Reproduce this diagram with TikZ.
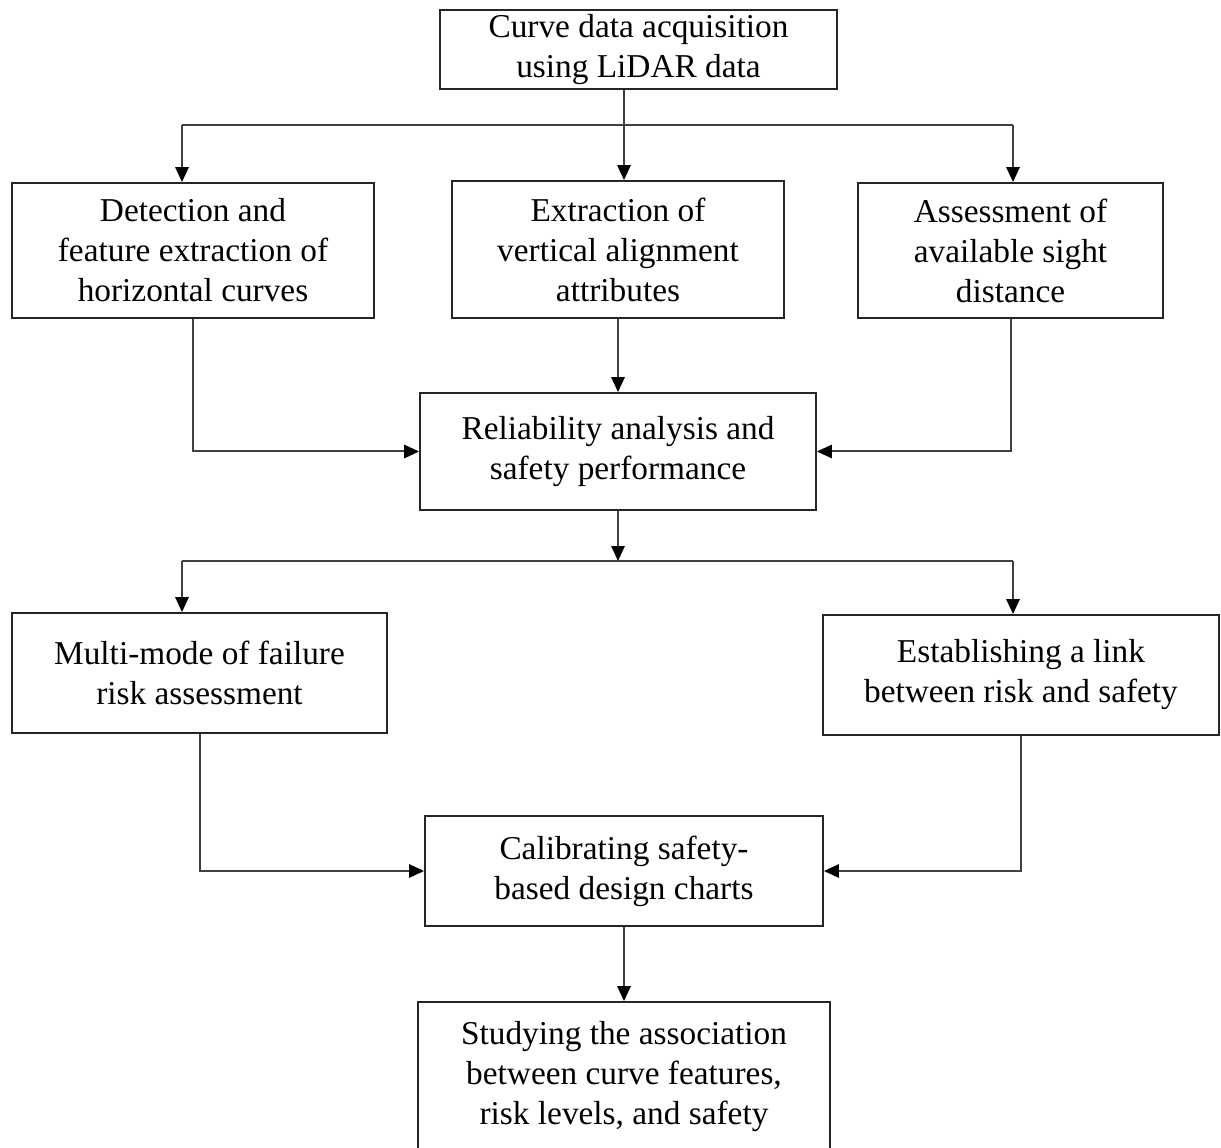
\documentclass[tikz,border=0pt]{standalone}
\usepackage{fontspec}
\setmainfont{Liberation Serif}
\usetikzlibrary{arrows.meta}

\tikzset{
  box/.style={draw=black!85, line width=1.1pt, align=center, inner sep=0pt,
    font=\fontsize{20}{24}\selectfont},
  line/.style={draw=black!75, line width=1.2pt},
  arr/.style={line, -{Triangle[length=9pt,width=8pt,black]}}
}

\begin{document}
\begin{tikzpicture}[x=0.6pt, y=-0.6pt]
    \clip (0,0) rectangle (1221,1148);

    % Boxes
    \node[box, minimum width=238.2pt, minimum height=47.4pt] (acquire) at (638.5,49.5) {Curve data acquisition\\using LiDAR data};

    \node[box, minimum width=217.2pt, minimum height=81pt] (detect) at (193,250.5) {Detection and\\feature extraction of\\horizontal curves};
    \node[box, minimum width=199.2pt, minimum height=82.2pt] (vertical) at (618,249.5) {Extraction of\\vertical alignment\\attributes};
    \node[box, minimum width=183pt, minimum height=81pt] (sight) at (1010.5,250.5) {Assessment of\\available sight\\distance};

    \node[box, minimum width=237.6pt, minimum height=70.2pt] (reliab) at (618,451.5) {Reliability analysis and\\safety performance};

    \node[box, minimum width=225pt, minimum height=72pt] (multi) at (199.5,673) {Multi-mode of failure\\risk assessment};
    \node[box, minimum width=237.6pt, minimum height=72pt] (link) at (1021,675) {Establishing a link\\between risk and safety};

    \node[box, minimum width=238.8pt, minimum height=66pt] (calib) at (624,871) {Calibrating safety-\\based design charts};

    \node[box, minimum width=247.2pt, minimum height=90pt] (study) at (624,1077) {Studying the association\\between curve features,\\risk levels, and safety};

    % Split points
    \coordinate (split1) at (624,125);
    \coordinate (lsplit1) at (182,125);
    \coordinate (rsplit1) at (1013,125);
    \coordinate (split2) at (618,561);
    \coordinate (lsplit2) at (182,561);
    \coordinate (rsplit2) at (1013,561);

    % Edges
    % acquisition -> three branches
    \draw[line] (acquire.south -| split1) -- (split1);
    \draw[line] (lsplit1) -- (rsplit1);
    \draw[arr] (lsplit1) -- (lsplit1 |- detect.north);
    \draw[arr] (split1) -- (split1 |- vertical.north);
    \draw[arr] (rsplit1) -- (rsplit1 |- sight.north);

    % branches -> reliability
    \draw[arr] (detect.south) |- (reliab.west);
    \draw[arr] (vertical.south) -- (reliab.north);
    \draw[arr] (sight.south) |- (reliab.east);

    % reliability -> two branches
    \draw[arr] (reliab.south) -- (split2);
    \draw[line] (lsplit2) -- (rsplit2);
    \draw[arr] (lsplit2) -- (lsplit2 |- multi.north);
    \draw[arr] (rsplit2) -- (rsplit2 |- link.north);

    % branches -> calibration -> study
    \draw[arr] (multi.south) |- (calib.west);
    \draw[arr] (link.south) |- (calib.east);
    \draw[arr] (calib.south) -- (study.north);
\end{tikzpicture}
\end{document}
